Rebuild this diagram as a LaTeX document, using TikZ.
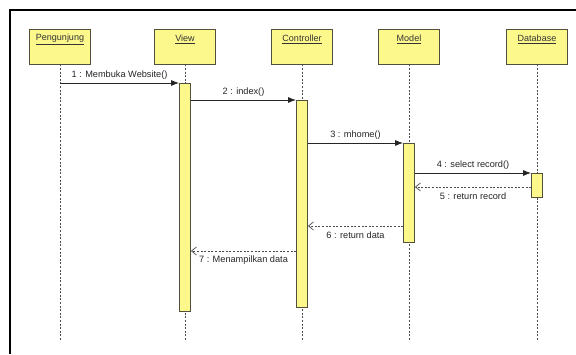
\documentclass[tikz,border=0pt]{standalone}
\usepackage{fontspec}
\setmainfont{Liberation Sans}
\usetikzlibrary{arrows.meta}
\definecolor{boxfill}{RGB}{252,248,140}
\definecolor{boxline}{RGB}{80,80,60}
\begin{document}
\begin{tikzpicture}[x=1pt,y=-1pt,
  obj/.style={draw=boxline, fill=boxfill, minimum width=61pt, minimum height=35pt, inner sep=0pt, line width=0.8pt},
  objlabel/.style={font=\fontsize{9}{10}\selectfont, text=black!80, inner sep=0pt},
  act/.style={draw=boxline, fill=boxfill, minimum width=11pt, inner sep=0pt, line width=0.8pt, anchor=north},
  life/.style={draw=black!70, dash pattern=on 2pt off 1.6pt, line width=0.7pt},
  call/.style={draw=black!85, line width=0.8pt, -{Latex[length=8pt,width=6pt]}},
  ret/.style={draw=black!70, dash pattern=on 2pt off 1.6pt, line width=0.7pt, -{Straight Barb[length=5pt,width=8pt]}},
  msg/.style={font=\fontsize{9.2}{10}\selectfont, inner sep=0pt, text=black!85}]

\useasboundingbox (0,0) rectangle (576,354);
\fill[white] (0,0) rectangle (576,354);
\draw[line width=1.4pt] (10,354) -- (10,10) -- (576,10);

% objects
\node[obj] (p) at (60,46.5) {};
\node[obj] (v) at (185,46.5) {};
\node[obj] (c) at (302,46.5) {};
\node[obj] (m) at (409,46.5) {};
\node[obj] (d) at (537,46.5) {};
\node[objlabel] (pl) at ([yshift=-11pt]p.north) {\underline{Pengunjung}};
\node[objlabel] (vl) at ([yshift=-11pt]v.north) {\underline{View}};
\node[objlabel] (cl) at ([yshift=-11pt]c.north) {\underline{Controller}};
\node[objlabel] (ml) at ([yshift=-11pt]m.north) {\underline{Model}};
\node[objlabel] (dl) at ([yshift=-11pt]d.north) {\underline{Database}};

% lifelines
\coordinate (pe) at (60,341);
\coordinate (ve) at (185,341);
\coordinate (ce) at (302,341);
\coordinate (me) at (409,341);
\coordinate (de) at (537,341);
\draw[life] (p.south) -- (pe);
\draw[life] (v.south) -- (ve);
\draw[life] (c.south) -- (ce);
\draw[life] (m.south) -- (me);
\draw[life] (d.south) -- (de);

% activations
\node[act, minimum height=228pt] (va) at (185,83) {};
\node[act, minimum height=207pt] (ca) at (302,100) {};
\node[act, minimum height=99pt] (ma) at (409,143) {};
\node[act, minimum height=24pt] (da) at (537,173) {};

% messages
\coordinate (m1) at (60,83);
\draw[call] (m1) -- node[msg, yshift=8pt] {1 : Membuka Website()} (va.north west);
\draw[call] (va.east |- ca.north) -- node[msg, yshift=8pt] {2 : index()} (ca.north west);
\draw[call] (ca.east |- ma.north) -- node[msg, yshift=8pt] {3 : mhome()} (ma.north west);
\draw[call] (ma.east |- da.north) -- node[msg, yshift=8pt] {4 : select record()} (da.north west);
\draw[ret] (da.west |- 0,187) -- node[msg, yshift=-9pt] {5 : return record} (ma.east |- 0,187);
\draw[ret] (ma.west |- 0,226) -- node[msg, yshift=-9pt] {6 : return data} (ca.east |- 0,226);
\draw[ret] (ca.west |- 0,251) -- node[msg, yshift=-9pt] {7 : Menampilkan data} (va.east |- 0,251);
\end{tikzpicture}
\end{document}
